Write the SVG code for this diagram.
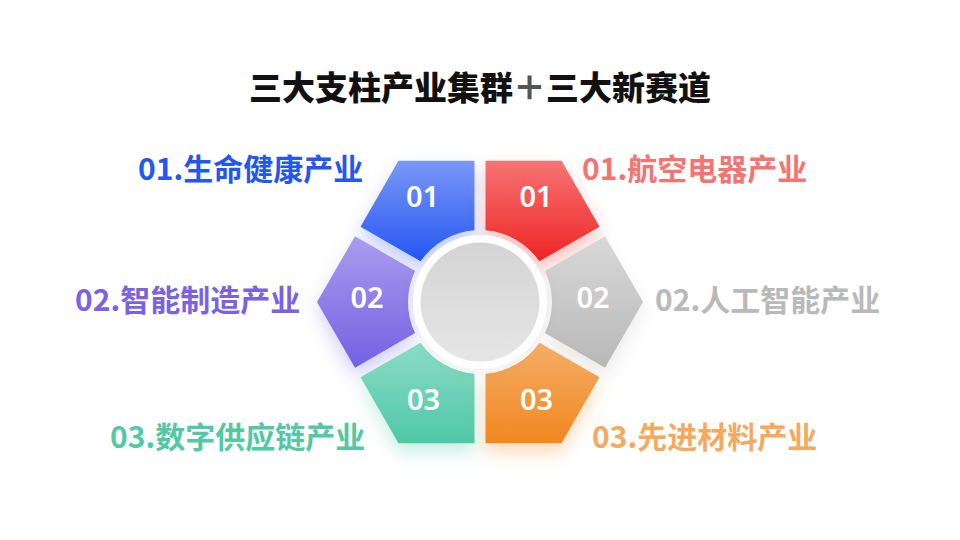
<svg xmlns="http://www.w3.org/2000/svg" width="960" height="540" viewBox="0 0 960 540">
  <style>
    .title { font-family: "Noto Sans CJK SC", "Noto Sans", sans-serif; font-size: 33px; font-weight: 900; fill: #111111; }
    .label { font-family: "Noto Sans CJK SC", "Noto Sans", sans-serif; font-size: 30px; font-weight: 700; }
    .num { font-family: "Noto Sans", "Noto Sans CJK SC", sans-serif; font-size: 29px; font-weight: 600; fill: #ffffff; text-anchor: middle; }
    .piece { filter: url(#glow); }
  </style>
  <defs>
    <linearGradient id="gBlue" x1="0" y1="0" x2="0" y2="1"><stop offset="0" stop-color="#7a98f7"/><stop offset="1" stop-color="#2456f2"/></linearGradient>
    <linearGradient id="gRed" x1="0" y1="0" x2="0" y2="1"><stop offset="0" stop-color="#f77474"/><stop offset="1" stop-color="#ee2424"/></linearGradient>
    <linearGradient id="gPurple" x1="0" y1="0" x2="0" y2="1"><stop offset="0" stop-color="#aa9cee"/><stop offset="1" stop-color="#7460e2"/></linearGradient>
    <linearGradient id="gGrey" x1="0" y1="0" x2="0" y2="1"><stop offset="0" stop-color="#d8d8d8"/><stop offset="1" stop-color="#b8b8b8"/></linearGradient>
    <linearGradient id="gTeal" x1="0" y1="0" x2="0" y2="1"><stop offset="0" stop-color="#8bdcc5"/><stop offset="1" stop-color="#4fc8a8"/></linearGradient>
    <linearGradient id="gOrange" x1="0" y1="0" x2="0" y2="1"><stop offset="0" stop-color="#f5ad66"/><stop offset="1" stop-color="#f08820"/></linearGradient>
    <linearGradient id="gCircle" x1="0" y1="0" x2="0" y2="1"><stop offset="0" stop-color="#d4d4d4"/><stop offset="1" stop-color="#e6e6e6"/></linearGradient>
    <filter id="glow" x="-40%" y="-40%" width="180%" height="190%">
      <feGaussianBlur in="SourceGraphic" stdDeviation="9" result="b"/>
      <feOffset in="b" dx="0" dy="8" result="o"/>
      <feColorMatrix in="o" type="matrix" values="1 0 0 0 0  0 1 0 0 0  0 0 1 0 0  0 0 0 0.35 0" result="s"/>
      <feMerge><feMergeNode in="s"/><feMergeNode in="SourceGraphic"/></feMerge>
    </filter>
    <filter id="shadow" x="-40%" y="-40%" width="180%" height="180%">
      <feDropShadow dx="0" dy="2" stdDeviation="6" flood-color="#000000" flood-opacity="0.07"/>
    </filter>
  </defs>

  <rect x="0" y="0" width="960" height="540" fill="#ffffff"/>

  <g id="title">
    <text class="title" x="480" y="100" text-anchor="middle">三大支柱产业集群<tspan fill="#555555">＋</tspan>三大新赛道</text>
  </g>

  <g id="node-blue">
    <path class="piece" fill="url(#gBlue)" d="M398.5,160.84 L360.5,226.65 L420.59,261.33 A72,72 0 0 1 474.49,230.21 L474.5,160.84 Z"/>
    <text class="num" x="422.5" y="207">01</text>
    <text class="label" x="138" y="180" fill="#2456f0">01.生命健康产业</text>
  </g>

  <g id="node-red">
    <path class="piece" fill="url(#gRed)" d="M561.5,160.84 L485.5,160.84 L485.51,230.21 A72,72 0 0 1 539.41,261.33 L599.5,226.65 Z"/>
    <text class="num" x="536" y="207">01</text>
    <text class="label" x="582" y="180" fill="#f47474">01.航空电器产业</text>
  </g>

  <g id="node-purple">
    <path class="piece" fill="url(#gPurple)" d="M317,302 L355,367.82 L415.08,333.12 A72,72 0 0 1 415.08,270.88 L355,236.18 Z"/>
    <text class="num" x="367" y="308">02</text>
    <text class="label" x="75" y="311" fill="#7a62e0">02.智能制造产业</text>
  </g>

  <g id="node-grey">
    <path class="piece" fill="url(#gGrey)" d="M643,302 L605,236.18 L544.92,270.88 A72,72 0 0 1 544.92,333.12 L605,367.82 Z"/>
    <text class="num" x="593" y="308">02</text>
    <text class="label" x="655" y="311" fill="#b9b9b9">02.人工智能产业</text>
  </g>

  <g id="node-teal">
    <path class="piece" fill="url(#gTeal)" d="M398.5,443.16 L474.5,443.16 L474.49,373.79 A72,72 0 0 1 420.59,342.67 L360.5,377.35 Z"/>
    <text class="num" x="423.5" y="409.5">03</text>
    <text class="label" x="110" y="448" fill="#52c8a5">03.数字供应链产业</text>
  </g>

  <g id="node-orange">
    <path class="piece" fill="url(#gOrange)" d="M561.5,443.16 L599.5,377.35 L539.41,342.67 A72,72 0 0 1 485.51,373.79 L485.5,443.16 Z"/>
    <text class="num" x="536.5" y="409.5">03</text>
    <text class="label" x="592" y="448" fill="#f5a95f">03.先进材料产业</text>
  </g>

  <g id="node-center">
    <circle cx="480" cy="302" r="67" fill="#ffffff" filter="url(#shadow)"/>
    <circle cx="480" cy="302" r="59.5" fill="url(#gCircle)"/>
  </g>

  <g id="connectors"></g>
</svg>
